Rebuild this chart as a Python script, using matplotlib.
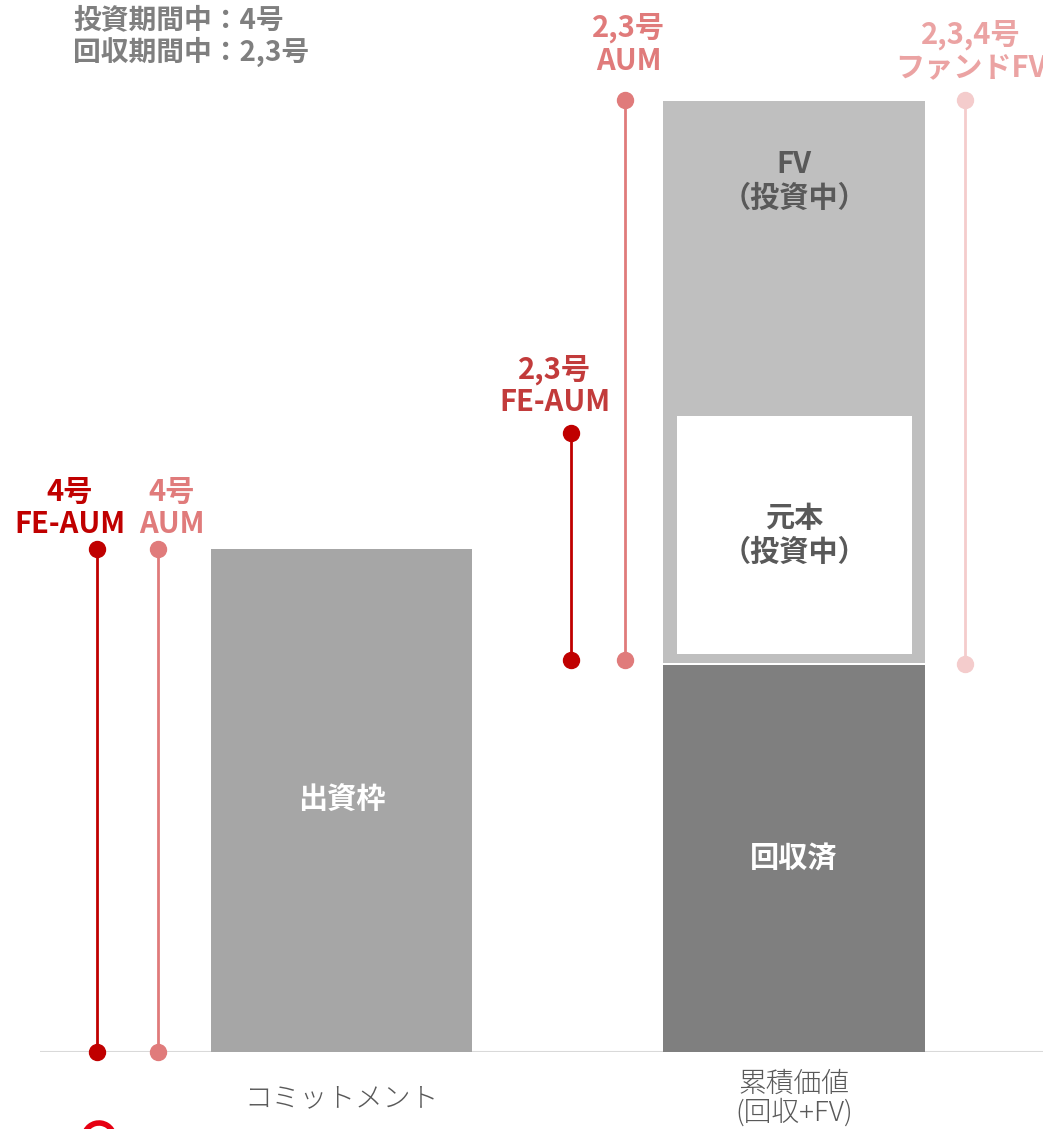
import matplotlib.pyplot as plt
from matplotlib.patches import Arc
from matplotlib.transforms import IdentityTransform

plt.rcParams['font.family'] = ['Noto Sans CJK JP', 'DejaVu Sans']

# bar values
categories = ['コミットメント', '累積価値\n(回収+FV)']
commitment = 100
collected = 77
fv_top = 189
principal_base = 79.1
principal = 47.3

# range lines: x offset from category, low, high
ranges = {
    '4号\nFE-AUM': (-0.540, 0, 100),
    '4号\nAUM': (-0.406, 0, 100),
    '2,3号\nFE-AUM': (0.507, 78, 123),
    '2,3号\nAUM': (0.626, 78, 189.3),
    '2,3,4号\nファンドFV': (1.378, 77.1, 189.3),
}
line_colors = ['#C00000', '#E07B7B', '#C00000', '#E07B7B', '#F4CCCC']
text_colors = ['#C00000', '#E07B7B', '#C23B3B', '#E07B7B', '#EBA3A3']
text_offsets = [(-27, 10), (14, 10), (-16, 16), (4, 24), (6, 17)]

fig = plt.figure(figsize=(10.43, 11.29), dpi=100)
ax = fig.add_axes([40 / 1043, 77 / 1129, 1003 / 1043, 1052 / 1129])
ax.set_xlim(-0.666, 1.550)
ax.set_ylim(0, 209.1)
ax.axis('off')

ax.axhline(0, color='#D9D9D9', lw=1.5, zorder=1)

ax.bar(0, commitment, width=0.577, color='#A6A6A6', zorder=2)
ax.bar(1, collected, width=0.579, color='#7F7F7F', zorder=2)
ax.bar(1, fv_top - collected - 0.4, bottom=collected + 0.4, width=0.579,
       color='#BFBFBF', zorder=2)
ax.bar(1, principal, bottom=principal_base, width=0.519, color='white', zorder=3)

bold = dict(fontsize=21, fontweight='bold', ha='center', va='center',
            linespacing=1.15, zorder=5)
ax.text(0, commitment / 2, '出資枠', color='white', **bold)
ax.text(1, collected / 2, '回収済', color='white', **bold)
ax.text(1, fv_top - 15.8, 'FV\n（投資中）', color='#595959', **bold)
ax.text(1, principal_base + principal / 2, '元本\n（投資中）', color='#595959', **bold)

for (label, (x, lo, hi)), lc, tc, off in zip(ranges.items(), line_colors,
                                             text_colors, text_offsets):
    ax.plot([x, x], [lo, hi], color=lc, lw=2, marker='o', ms=11.5,
            solid_capstyle='butt', zorder=4, clip_on=False)
    ax.annotate(label, (x, hi), xytext=off, textcoords='offset pixels',
                ha='center', va='bottom', color=tc, fontsize=21,
                fontweight='bold', linespacing=1.1, annotation_clip=False)

for i, cat in enumerate(categories):
    ax.annotate(cat, (i, 0), xytext=(0, -46), textcoords='offset pixels',
                ha='center', va='center', color='#595959', fontsize=20,
                fontweight='light', linespacing=1.0, annotation_clip=False)

fig.text(73 / 1043, 1 - 6 / 1129, '投資期間中：4号\n回収期間中：2,3号',
         ha='left', va='top', color='#7F7F7F', fontsize=20, fontweight='bold',
         linespacing=1.12)

# logo fragment at the bottom-left corner
fig.add_artist(Arc((99, -9), 30, 30, theta1=10, theta2=200, color='#E60012',
                   lw=4, transform=IdentityTransform(), capstyle='round'))

fig.savefig('out.png', dpi=100)
